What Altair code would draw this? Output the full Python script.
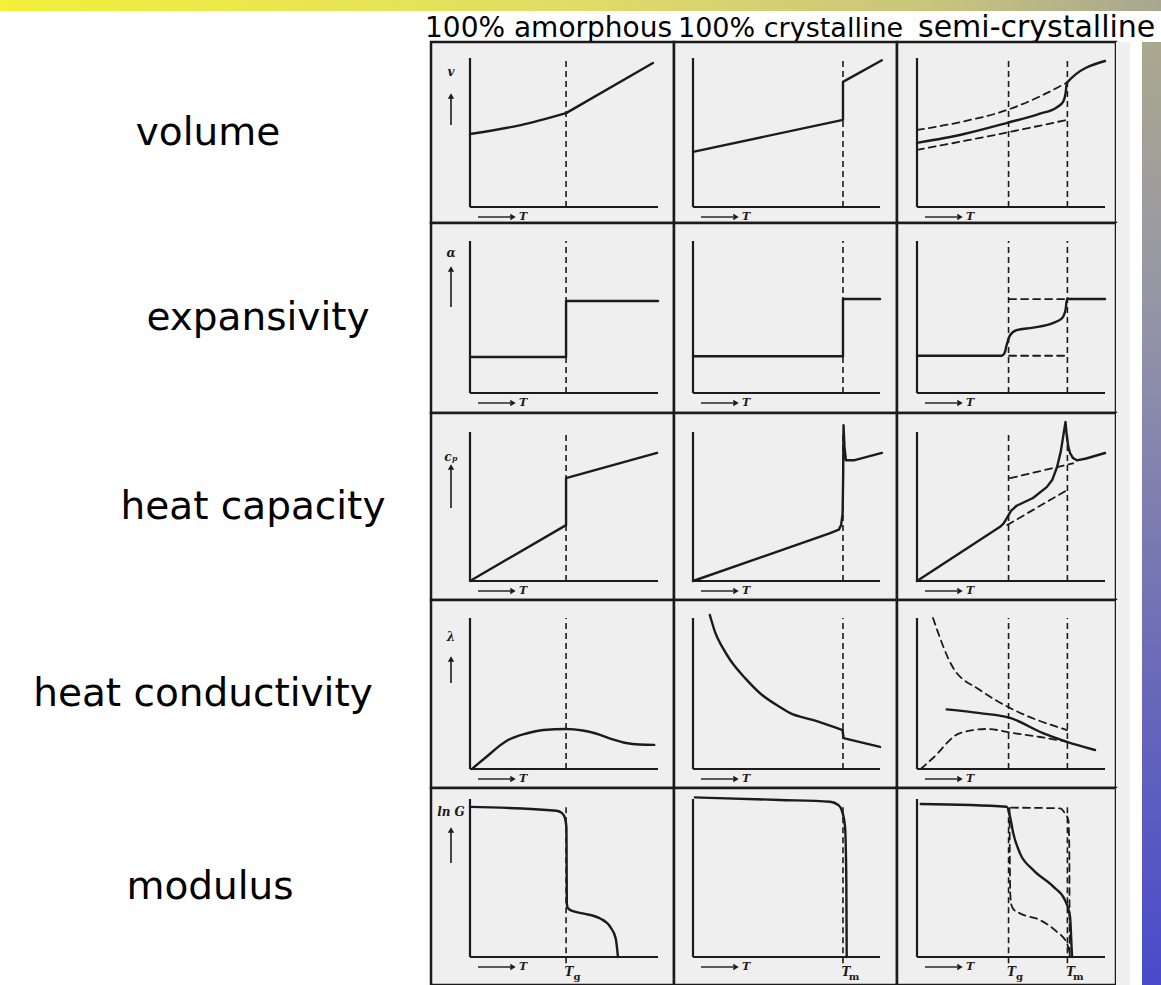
import altair as alt
import pandas as pd

# ---------------------------------------------------------------- data
column_titles = ["100% amorphous", "100% crystalline", "semi-crystalline"]
property_names = ["volume", "expansivity", "heat capacity", "heat conductivity", "modulus"]
property_symbols = ["v", "α", "cₚ", "λ", "ln G"]

# transition temperatures on each column's T axis (fraction of the axis length)
t_glass = [0.511, None, 0.487]
t_melt = [None, 0.802, 0.80]

# curves as (T, P): T along the temperature axis (0 = origin, 1 = end of axis),
# P along the property axis (0 = T axis, 1 = top of the property axis)
volume_amorphous_glass = [(0.0, 0.49), (0.27, 0.55), (0.511, 0.63)]
volume_amorphous_melt = [(0.511, 0.63), (0.973, 0.966)]
volume_crystalline = [(0.0, 0.37), (0.802, 0.585), (0.802, 0.84), (1.01, 0.985)]
volume_semi = [(0.0, 0.43), (0.25, 0.49), (0.48, 0.565), (0.65, 0.625), (0.745, 0.67),
               (0.777, 0.705), (0.79, 0.76), (0.798, 0.835), (1.0, 0.98)]
volume_semi_upper = [(0.0, 0.517), (0.25, 0.575), (0.479, 0.651), (0.65, 0.74), (0.798, 0.835)]
volume_semi_lower = [(0.0, 0.383), (0.479, 0.5), (0.795, 0.584)]

expansivity_amorphous = [(0.0, 0.237), (0.511, 0.237), (0.511, 0.605), (1.0, 0.605)]
expansivity_crystalline = [(0.0, 0.242), (0.802, 0.242), (0.802, 0.618), (1.0, 0.618)]
expansivity_semi = [(0.0, 0.245), (0.45, 0.245), (0.465, 0.26), (0.477, 0.316), (0.495, 0.38),
                    (0.53, 0.414), (0.617, 0.43), (0.723, 0.46), (0.77, 0.49), (0.79, 0.546),
                    (0.798, 0.618), (1.0, 0.618)]
expansivity_semi_upper = [(0.49, 0.618), (0.798, 0.618)]
expansivity_semi_lower = [(0.49, 0.245), (0.798, 0.245)]

heat_capacity_amorphous = [(0.0, 0.0), (0.511, 0.375), (0.511, 0.69), (0.995, 0.86)]
heat_capacity_crystalline = [(0.0, 0.0), (0.73, 0.32), (0.78, 0.345), (0.792, 0.375), (0.80, 0.45),
                             (0.803, 0.7), (0.805, 1.045), (0.81, 0.9), (0.818, 0.81),
                             (0.86, 0.81), (1.01, 0.86)]
heat_capacity_semi = [(0.0, 0.0), (0.44, 0.362), (0.46, 0.385), (0.477, 0.42), (0.50, 0.47),
                      (0.53, 0.505), (0.617, 0.557), (0.69, 0.63), (0.72, 0.68), (0.745, 0.765),
                      (0.765, 0.87), (0.777, 0.966), (0.79, 1.067), (0.797, 0.97), (0.805, 0.9),
                      (0.814, 0.859), (0.83, 0.825), (0.85, 0.81), (0.9, 0.822), (1.0, 0.859)]
heat_capacity_semi_upper = [(0.495, 0.69), (0.83, 0.79)]
heat_capacity_semi_lower = [(0.48, 0.376), (0.798, 0.61)]

conductivity_amorphous = [(0.01, 0.0), (0.08, 0.073), (0.2, 0.19), (0.3, 0.235), (0.39, 0.258),
                          (0.51, 0.265), (0.6, 0.255), (0.67, 0.235), (0.75, 0.2), (0.83, 0.172),
                          (0.9, 0.162), (0.98, 0.16)]
conductivity_crystalline = [(0.09, 1.02), (0.12, 0.9), (0.16, 0.8), (0.2, 0.72), (0.28, 0.6),
                            (0.36, 0.5), (0.465, 0.41), (0.52, 0.37), (0.64, 0.325), (0.80, 0.258)]
conductivity_crystalline_melt = [(0.80, 0.258), (0.805, 0.205), (1.0, 0.146)]
conductivity_semi = [(0.158, 0.395), (0.335, 0.37), (0.495, 0.338), (0.67, 0.238),
                     (0.798, 0.18), (0.947, 0.126)]
conductivity_semi_upper = [(0.085, 1.0), (0.19, 0.675), (0.335, 0.523), (0.495, 0.404), (0.798, 0.258)]
conductivity_semi_lower = [(0.02, 0.0), (0.085, 0.073), (0.229, 0.238), (0.372, 0.265),
                           (0.51, 0.238), (0.654, 0.212), (0.798, 0.18)]

modulus_amorphous = [(0.0, 0.95), (0.46, 0.926), (0.49, 0.91), (0.505, 0.88), (0.513, 0.82),
                     (0.515, 0.34), (0.52, 0.31), (0.54, 0.293), (0.6, 0.276), (0.69, 0.245),
                     (0.745, 0.192), (0.775, 0.118), (0.787, 0.0)]
modulus_crystalline = [(0.01, 1.01), (0.465, 0.994), (0.733, 0.983), (0.777, 0.962), (0.795, 0.93),
                       (0.813, 0.825), (0.82, 0.47), (0.822, 0.0)]
modulus_semi = [(0.02, 0.968), (0.477, 0.951), (0.495, 0.888), (0.512, 0.783), (0.548, 0.656),
                (0.619, 0.55), (0.725, 0.445), (0.787, 0.36), (0.814, 0.255), (0.823, 0.044),
                (0.825, 0.0)]
modulus_semi_upper = [(0.5, 0.945), (0.761, 0.941), (0.787, 0.909), (0.805, 0.867), (0.81, 0.7),
                      (0.812, 0.0)]
modulus_semi_lower = [(0.492, 0.94), (0.496, 0.40), (0.502, 0.33), (0.515, 0.3), (0.548, 0.276),
                      (0.654, 0.234), (0.743, 0.16), (0.797, 0.087), (0.814, 0.023), (0.82, 0.0)]

# which curves go in which (row, column) panel: (points, line style, interpolation)
cell_curves = {
    (0, 0): [(volume_amorphous_glass, "solid", "monotone"), (volume_amorphous_melt, "solid", "linear")],
    (0, 1): [(volume_crystalline, "solid", "linear")],
    (0, 2): [(volume_semi, "solid", "monotone"), (volume_semi_upper, "dashed", "monotone"),
             (volume_semi_lower, "dashed", "monotone")],
    (1, 0): [(expansivity_amorphous, "solid", "linear")],
    (1, 1): [(expansivity_crystalline, "solid", "linear")],
    (1, 2): [(expansivity_semi, "solid", "monotone"), (expansivity_semi_upper, "dashed", "linear"),
             (expansivity_semi_lower, "dashed", "linear")],
    (2, 0): [(heat_capacity_amorphous, "solid", "linear")],
    (2, 1): [(heat_capacity_crystalline, "solid", "linear")],
    (2, 2): [(heat_capacity_semi, "solid", "linear"), (heat_capacity_semi_upper, "dashed", "linear"),
             (heat_capacity_semi_lower, "dashed", "linear")],
    (3, 0): [(conductivity_amorphous, "solid", "monotone")],
    (3, 1): [(conductivity_crystalline, "solid", "monotone"),
             (conductivity_crystalline_melt, "solid", "linear")],
    (3, 2): [(conductivity_semi, "solid", "monotone"), (conductivity_semi_upper, "dashed", "monotone"),
             (conductivity_semi_lower, "dashed", "monotone")],
    (4, 0): [(modulus_amorphous, "solid", "monotone")],
    (4, 1): [(modulus_crystalline, "solid", "monotone")],
    (4, 2): [(modulus_semi, "solid", "monotone"), (modulus_semi_upper, "dashed", "monotone"),
             (modulus_semi_lower, "dashed", "monotone")],
}

# ---------------------------------------------------------------- layout (pixels)
FULL_W, FULL_H = 1161, 985
BAND_H, HEADER_H = 11, 42
LABEL_W, MARGIN_W = 431, 45          # margin column: paper edge + white gap + side strip
COL_W = [243, 223, 219]
ROW_H = [181, 190, 187, 188, 197]
COL_YAXIS = [39, 19, 20]             # property axis, from the cell's left edge
COL_XEND = [227, 206, 208]           # end of the T axis, from the cell's left edge
ROW_YTOP = [16, 18, 19, 18, 11]      # top of the property axis, from the cell's top edge
ROW_XAXIS = [165, 170, 168, 169, 169]  # T axis, from the cell's top edge
LABEL_X = [208, 258, 253, 203, 210]
SYMBOL_Y = [30, 30, 44, 37, 24]
ARROW_Y = [(50, 83), (42, 84), (50, 95), (55, 83), (38, 75)]
HEADER_X = [-6, 4, 21]               # title start, from the column's left edge
HEADER_SIZE = [28, 27, 30]

INK = "#1b1b1b"
PAPER = "#efefef"
ONE = pd.DataFrame({"k": [0]})

BAND_STOPS = [(0.0, "#f2f03a"), (0.5, "#e0dc66"), (0.8, "#c9c57c"), (1.0, "#a8a690")]
STRIP_STOPS = [(0.0, "#aaa88e"), (0.27, "#9696a6"), (0.7, "#6767ba"), (1.0, "#4a4acb")]


def _mix(stops, t):
    for (s0, c0), (s1, c1) in zip(stops[:-1], stops[1:]):
        if s0 <= t <= s1:
            f = 0 if s1 == s0 else (t - s0) / (s1 - s0)
            a = [int(c0[i:i + 2], 16) for i in (1, 3, 5)]
            b = [int(c1[i:i + 2], 16) for i in (1, 3, 5)]
            return "#" + "".join(f"{round(x + (y - x) * f):02x}" for x, y in zip(a, b))
    return stops[-1][1] if t > stops[-1][0] else stops[0][1]


def segment_gradient(stops, a, b, horizontal):
    """Part [a, b] (fractions) of a global gradient, as a gradient of its own."""
    pts = [(0.0, _mix(stops, a))]
    pts += [((s - a) / (b - a), c) for s, c in stops if a < s < b]
    pts.append((1.0, _mix(stops, b)))
    return alt.LinearGradient(
        gradient="linear", x1=0, y1=0, x2=1 if horizontal else 0, y2=0 if horizontal else 1,
        stops=[alt.GradientStop(color=c, offset=o) for o, c in pts])


WIDTHS = [LABEL_W] + COL_W + [MARGIN_W]
LEFTS = [sum(WIDTHS[:j]) for j in range(len(WIDTHS))]
TOPS = [HEADER_H + sum(ROW_H[:r]) for r in range(len(ROW_H))]


def header_panel(j):
    w = WIDTHS[j]
    g = segment_gradient(BAND_STOPS, LEFTS[j] / FULL_W, (LEFTS[j] + w) / FULL_W, True)
    layers = [alt.Chart(ONE).mark_rect(color=g).encode(
        x=alt.value(0), x2=alt.value(w), y=alt.value(0), y2=alt.value(BAND_H))]
    if 1 <= j <= 3:
        c = j - 1
        df = pd.DataFrame({"title": [column_titles[c]]})
        layers.append(alt.Chart(df).mark_text(
            font="DejaVu Sans", fontSize=HEADER_SIZE[c], align="left", baseline="alphabetic",
            color="black").encode(text="title:N", x=alt.value(HEADER_X[c]), y=alt.value(37)))
    return alt.layer(*layers).properties(width=w, height=HEADER_H)


def cell(r, c):
    w, h = COL_W[c], ROW_H[r]
    ya, xe, yt, xa = COL_YAXIS[c], COL_XEND[c], ROW_YTOP[r], ROW_XAXIS[r]
    kx, ky = xe - ya, xa - yt
    xs = alt.Scale(domain=[-ya / kx, (w - ya) / kx], nice=False, zero=False)
    ys = alt.Scale(domain=[-(h - xa) / ky, xa / ky], nice=False, zero=False)

    def X(f):
        return alt.X(f, type="quantitative", scale=xs, axis=None)

    def Y(f):
        return alt.Y(f, type="quantitative", scale=ys, axis=None)

    layers = []
    frame = pd.DataFrame({"x": [0.0, 0.0], "x2": [0.0, 1.0], "y": [0.0, 0.0], "y2": [1.0, 0.0]})
    layers.append(alt.Chart(frame).mark_rule(color=INK, strokeWidth=2.2).encode(
        x=X("x"), x2="x2:Q", y=Y("y"), y2="y2:Q"))

    temps = [t for t in (t_glass[c], t_melt[c]) if t is not None]
    lo, hi = (-0.04, 0.97) if r == 4 else (0.0, 1.0)
    tdf = pd.DataFrame({"t": temps, "lo": lo, "hi": hi})
    layers.append(alt.Chart(tdf).mark_rule(color=INK, strokeWidth=1.6, strokeDash=[6, 4]).encode(
        x=X("t"), y=Y("lo"), y2="hi:Q"))

    groups = {}
    for n, (pts, style, interp) in enumerate(cell_curves[(r, c)]):
        for i, (t, p) in enumerate(pts):
            groups.setdefault((style, interp), []).append({"curve": n, "i": i, "T": t, "P": p})
    for (style, interp), rows in groups.items():
        kw = dict(color=INK, interpolate=interp, strokeCap="round", strokeJoin="round")
        if style == "dashed":
            kw.update(strokeWidth=1.8, strokeDash=[7, 5])
        else:
            kw.update(strokeWidth=2.4)
        layers.append(alt.Chart(pd.DataFrame(rows)).mark_line(**kw).encode(
            x=X("T"), y=Y("P"), detail="curve:N", order="i:Q"))

    # "—▶ T" under the temperature axis
    ay = xa + 10
    layers.append(alt.Chart(ONE).mark_rule(color=INK, strokeWidth=1.4).encode(
        x=alt.value(ya + 8), x2=alt.value(ya + 40), y=alt.value(ay)))
    layers.append(alt.Chart(ONE).mark_point(shape="triangle-right", filled=True, size=40,
                                            color=INK, opacity=1).encode(
        x=alt.value(ya + 43), y=alt.value(ay)))
    layers.append(alt.Chart(ONE).mark_text(text="T", font="DejaVu Serif", fontStyle="italic",
                                           fontWeight="bold", fontSize=11, color=INK).encode(
        x=alt.value(ya + 53), y=alt.value(ay)))

    if c == 0:
        sym = pd.DataFrame({"s": [property_symbols[r]]})
        layers.append(alt.Chart(sym).mark_text(font="DejaVu Serif", fontStyle="italic",
                                               fontWeight="bold", fontSize=12, color=INK).encode(
            text="s:N", x=alt.value(20), y=alt.value(SYMBOL_Y[r])))
        a0, a1 = ARROW_Y[r]
        layers.append(alt.Chart(ONE).mark_rule(color=INK, strokeWidth=1.6).encode(
            x=alt.value(20), y=alt.value(a0 + 4), y2=alt.value(a1)))
        layers.append(alt.Chart(ONE).mark_point(shape="triangle-up", filled=True, size=40,
                                                color=INK, opacity=1).encode(
            x=alt.value(20), y=alt.value(a0 + 4)))

    if r == 4:
        names = []
        if t_glass[c] is not None:
            names.append({"t": t_glass[c], "sub": "g"})
        if t_melt[c] is not None:
            names.append({"t": t_melt[c], "sub": "m"})
        ldf = pd.DataFrame(names)
        layers.append(alt.Chart(ldf).mark_text(text="T", font="DejaVu Serif", fontStyle="italic",
                                               fontWeight="bold", fontSize=12, color=INK, dx=3).encode(
            x=X("t"), y=alt.value(h - 13)))
        layers.append(alt.Chart(ldf).mark_text(font="DejaVu Serif", fontWeight="bold",
                                               fontSize=10, color=INK, dx=11).encode(
            text="sub:N", x=X("t"), y=alt.value(h - 8)))

    return alt.layer(*layers).properties(
        width=w, height=h,
        view=alt.ViewBackground(fill=PAPER, stroke=INK, strokeWidth=2.5))


def label_panel(r):
    df = pd.DataFrame({"name": [property_names[r]]})
    return alt.Chart(df).mark_text(font="DejaVu Sans", fontSize=39, color="black").encode(
        text="name:N", x=alt.value(LABEL_X[r]), y=alt.value(ROW_H[r] / 2)
    ).properties(width=LABEL_W, height=ROW_H[r])


def margin_panel(r):
    h = ROW_H[r]
    g = segment_gradient(STRIP_STOPS, (TOPS[r] - HEADER_H) / (FULL_H - HEADER_H),
                         (TOPS[r] + h - HEADER_H) / (FULL_H - HEADER_H), False)
    paper = alt.Chart(ONE).mark_rect(color=PAPER).encode(
        x=alt.value(0), x2=alt.value(14), y=alt.value(0), y2=alt.value(h))
    side = alt.Chart(ONE).mark_rect(color=g).encode(
        x=alt.value(26), x2=alt.value(MARGIN_W), y=alt.value(0), y2=alt.value(h))
    return alt.layer(paper, side).properties(width=MARGIN_W, height=h)


panels = [header_panel(j) for j in range(5)]
for r in range(5):
    panels += [label_panel(r), cell(r, 0), cell(r, 1), cell(r, 2), margin_panel(r)]

chart = alt.concat(*panels, columns=5, spacing=0, bounds="flush", align="each").properties(
    padding=0, background="white"
).configure_view(strokeWidth=0)

chart.save("out.html", embed_options={"renderer": "svg", "actions": False})
